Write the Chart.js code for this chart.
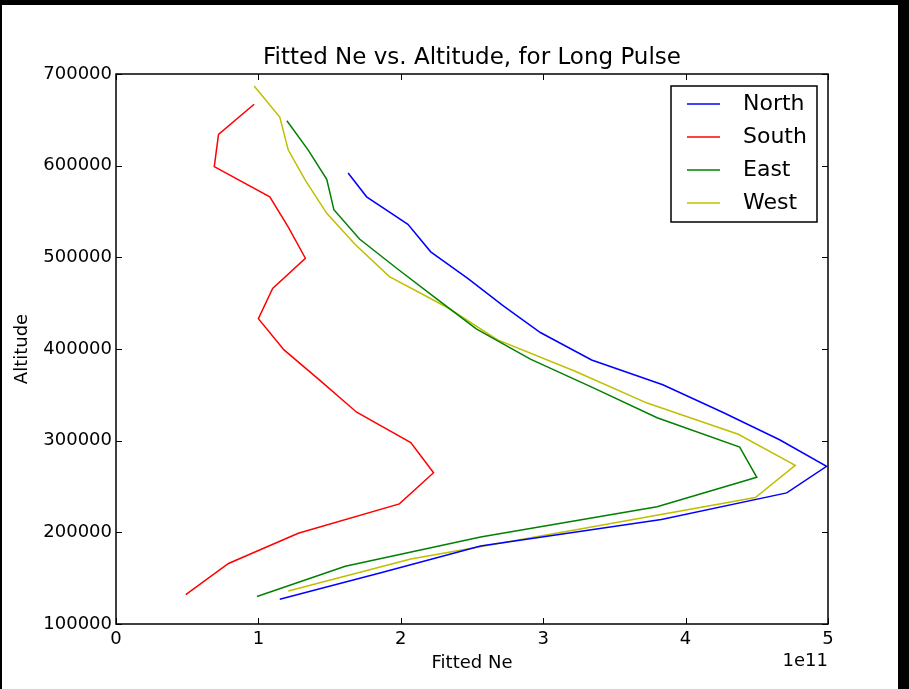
<!DOCTYPE html>
<html>
<head>
<meta charset="utf-8">
<script src="https://cdn.jsdelivr.net/npm/chart.js@4.4.1/dist/chart.umd.min.js"></script>
<style>
  html, body { margin: 0; padding: 0; background: #000; }
  #wrap { position: absolute; left: 2px; top: 5px; width: 896px; height: 684px; background: #fff; }
  canvas { display: block; }
</style>
</head>
<body>
<div id="wrap"><canvas id="chart" width="896" height="684"></canvas></div>
<script>
// values (Ne in m^-3, altitude in m)
const northAlt = [592000, 566000, 536000, 506000, 477000, 447000, 418000, 388000, 361000, 331000, 301000, 272000, 243000, 214000, 185000, 156000, 127000];
const northNe  = [1.63e11, 1.76e11, 2.05e11, 2.21e11, 2.47e11, 2.72e11, 2.98e11, 3.34e11, 3.84e11, 4.26e11, 4.66e11, 4.99e11, 4.71e11, 3.83e11, 2.56e11, 1.86e11, 1.15e11];

const southAlt = [667000, 634000, 599000, 566000, 533000, 499000, 466000, 433000, 399000, 366000, 331000, 298000, 265000, 231000, 199000, 166000, 132000];
const southNe  = [0.97e11, 0.72e11, 0.69e11, 1.08e11, 1.21e11, 1.33e11, 1.10e11, 1.00e11, 1.18e11, 1.43e11, 1.69e11, 2.07e11, 2.23e11, 1.99e11, 1.28e11, 0.79e11, 0.49e11];

const eastAlt = [649000, 617000, 585000, 552000, 520000, 487000, 455000, 422000, 389000, 357000, 325000, 293000, 260000, 228000, 195000, 163000, 130000];
const eastNe  = [1.20e11, 1.35e11, 1.48e11, 1.53e11, 1.71e11, 1.98e11, 2.25e11, 2.53e11, 2.91e11, 3.36e11, 3.80e11, 4.38e11, 4.50e11, 3.80e11, 2.56e11, 1.61e11, 0.99e11];

const westAlt = [687000, 653000, 617000, 584000, 548000, 514000, 479000, 445000, 410000, 376000, 341000, 307000, 273000, 238000, 204000, 171000, 136000];
const westNe  = [0.97e11, 1.15e11, 1.21e11, 1.33e11, 1.48e11, 1.68e11, 1.92e11, 2.33e11, 2.68e11, 3.22e11, 3.73e11, 4.37e11, 4.77e11, 4.49e11, 3.27e11, 2.07e11, 1.21e11];

const seriesNames = ['North', 'South', 'East', 'West'];
const seriesColors = ['#0000ff', '#ff0000', '#008000', '#bfbf00'];
const xTicks = [0, 1e11, 2e11, 3e11, 4e11, 5e11];
const yTicks = [100000, 200000, 300000, 400000, 500000, 600000, 700000];

const TITLE = 'Fitted Ne vs. Altitude, for Long Pulse';
const TICK_LEN = 6;

Chart.defaults.font.family = '"DejaVu Sans", sans-serif';
Chart.defaults.color = '#000';

function pts(ne, alt) {
  return alt.map((a, i) => ({ x: ne[i], y: a }));
}

const allSeries = [[northNe, northAlt], [southNe, southAlt], [eastNe, eastAlt], [westNe, westAlt]];

// matplotlib-ish frame, inward ticks, title, offset text and legend box
const mplLook = {
  id: 'mplLook',
  afterDraw(chart) {
    const { ctx, chartArea: a, scales: { x, y } } = chart;
    ctx.save();
    ctx.strokeStyle = '#000';
    ctx.lineWidth = 1;
    ctx.beginPath();
    xTicks.forEach(v => {
      const px = Math.round(x.getPixelForValue(v)) + 0.5;
      ctx.moveTo(px, a.bottom); ctx.lineTo(px, a.bottom - TICK_LEN);
      ctx.moveTo(px, a.top); ctx.lineTo(px, a.top + TICK_LEN);
    });
    yTicks.forEach(v => {
      const py = Math.round(y.getPixelForValue(v)) + 0.5;
      ctx.moveTo(a.left, py); ctx.lineTo(a.left + TICK_LEN, py);
      ctx.moveTo(a.right, py); ctx.lineTo(a.right - TICK_LEN, py);
    });
    ctx.stroke();

    ctx.lineWidth = 1.5;
    ctx.strokeRect(a.left, a.top, a.right - a.left, a.bottom - a.top);

    ctx.fillStyle = '#000';
    ctx.textBaseline = 'middle';
    ctx.font = '18px "DejaVu Sans"';
    ctx.textAlign = 'right';
    ctx.fillText('1e11', a.right, a.bottom + 37);

    ctx.font = '23px "DejaVu Sans"';
    ctx.textAlign = 'center';
    ctx.fillText(TITLE, (a.left + a.right) / 2, 53);

    // legend
    const bx = a.right - 157, by = a.top + 12, bw = 146, bh = 136;
    ctx.fillStyle = '#fff';
    ctx.fillRect(bx, by, bw, bh);
    ctx.lineWidth = 1.5;
    ctx.strokeStyle = '#000';
    ctx.strokeRect(bx, by, bw, bh);
    ctx.font = '22px "DejaVu Sans"';
    ctx.textAlign = 'left';
    chart.data.datasets.forEach((ds, i) => {
      const ly = by + 18 + i * 33;
      ctx.strokeStyle = ds.borderColor;
      ctx.lineWidth = 1.5;
      ctx.beginPath();
      ctx.moveTo(bx + 16, ly); ctx.lineTo(bx + 49, ly);
      ctx.stroke();
      ctx.fillStyle = '#000';
      ctx.fillText(ds.label, bx + 72, ly);
    });
    ctx.restore();
  }
};

new Chart(document.getElementById('chart'), {
  type: 'scatter',
  data: {
    datasets: allSeries.map((s, i) => ({
      label: seriesNames[i],
      data: pts(s[0], s[1]),
      showLine: true,
      borderColor: seriesColors[i],
      backgroundColor: seriesColors[i],
      borderWidth: 1.5,
      pointRadius: 0,
      fill: false,
      tension: 0
    }))
  },
  options: {
    responsive: false,
    animation: false,
    devicePixelRatio: 1,
    layout: { padding: { top: 69, right: 70, bottom: 0, left: 0 } },
    plugins: {
      legend: { display: false },
      title: { display: false },
      tooltip: { enabled: false }
    },
    scales: {
      x: {
        type: 'linear',
        min: 0, max: 5e11,
        afterFit(scale) { scale.height = 65; },
        afterBuildTicks(scale) { scale.ticks = xTicks.map(v => ({ value: v })); },
        grid: { display: false, drawTicks: false },
        border: { display: false },
        ticks: {
          padding: 5,
          font: { size: 18 },
          color: '#000',
          callback: v => String(Math.round(v / 1e11))
        },
        title: { display: true, text: 'Fitted Ne', font: { size: 18 }, color: '#000', padding: { top: 0, bottom: 15 } }
      },
      y: {
        type: 'linear',
        min: 100000, max: 700000,
        afterFit(scale) { scale.width = 114; },
        afterBuildTicks(scale) { scale.ticks = yTicks.map(v => ({ value: v })); },
        grid: { display: false, drawTicks: false },
        border: { display: false },
        ticks: {
          padding: 4,
          font: { size: 18 },
          color: '#000',
          callback: v => String(v)
        },
        title: { display: true, text: 'Altitude', font: { size: 18 }, color: '#000', padding: { top: 10, bottom: 0 } }
      }
    }
  },
  plugins: [mplLook]
});
</script>
</body>
</html>
